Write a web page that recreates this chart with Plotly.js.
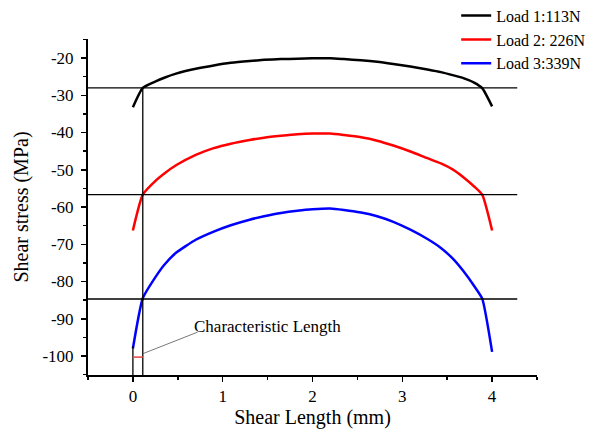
<!DOCTYPE html>
<html>
<head>
<meta charset="utf-8">
<script src="https://cdn.plot.ly/plotly-3.0.1.min.js"></script>
<style>html,body{margin:0;padding:0;background:#fff;}#chart{width:590px;height:440px;}</style>
</head>
<body>
<div id="chart"></div>
<script>
// Shear length positions (mm)
const shearLength = [0, 0.11, 0.26, 0.35, 0.48, 0.7, 0.9, 1.09, 1.3, 1.46, 1.65, 1.83, 2.0, 2.2, 2.35, 2.54, 2.72, 2.9, 3.09, 3.28, 3.43, 3.56, 3.68, 3.8, 3.89, 4.0];
// Shear stress (MPa) per load
const load1 = [-33.2, -28.0, -26.2, -25.3, -24.2, -22.9, -22.0, -21.3, -20.8, -20.5, -20.3, -20.2, -20.1, -20.1, -20.3, -20.6, -21.0, -21.6, -22.3, -23.1, -23.8, -24.6, -25.4, -26.6, -28.1, -33.0];
const load2 = [-66.3, -56.7, -52.8, -51.0, -48.8, -46.0, -44.2, -43.0, -42.0, -41.4, -40.9, -40.5, -40.3, -40.3, -40.7, -41.3, -42.2, -43.5, -45.1, -46.9, -48.3, -49.9, -52.0, -54.5, -56.7, -66.3];
const load3 = [-98.0, -84.5, -78.5, -75.5, -72.3, -68.8, -66.6, -64.9, -63.4, -62.5, -61.6, -61.0, -60.6, -60.4, -60.8, -61.5, -62.5, -64.0, -66.1, -68.6, -71.0, -73.8, -77.2, -81.2, -84.6, -98.9];
const seriesNames = ["Load 1:113N", "Load 2: 226N", "Load 3:339N"];
const seriesColors = ["#000000", "#ff0000", "#0000ff"];

// Guide values
const thresholdStress = [-28.0, -56.7, -84.7];
const characteristicLength = 0.11;
const charMarkStress = -100.3;
const charLineBottom = -97.3;
const annotationText = "Characteristic Length";
const annotationPos = {x: 0.66, y: -92.2};
const annotationLeader = {x0: 0.72, y0: -93.6, x1: 0.108, y1: -99.4};

// Ticks
const yTickVals = [-100, -90, -80, -70, -60, -50, -40, -30, -20];
const yTickText = ["-100", "-90", "-80", "-70", "-60", "-50", "-40", "-30", "-20"];
const xTickVals = [0, 1, 2, 3, 4];
const xTickText = ["0", "1", "2", "3", "4"];

const xRange = [-0.5, 4.5];
const yRange = [-105.1, -14.9];
const font = "'Liberation Serif', 'Times New Roman', serif";

const traces = [load1, load2, load3].map((ys, i) => ({
  x: shearLength, y: ys, type: 'scatter', mode: 'lines',
  name: seriesNames[i], line: {color: seriesColors[i], width: 2.5, shape: 'spline', smoothing: 0.5}
}));

const shapes = [];
thresholdStress.forEach(v => shapes.push({
  type: 'line', xref: 'x', yref: 'y', x0: xRange[0], x1: 4.28, y0: v, y1: v,
  line: {color: '#000', width: 1.3}
}));
shapes.push({type: 'line', xref: 'x', yref: 'y', x0: characteristicLength, x1: characteristicLength, y0: thresholdStress[0], y1: yRange[0], line: {color: '#000', width: 1.3}});
shapes.push({type: 'line', xref: 'x', yref: 'y', x0: 0, x1: 0, y0: charLineBottom, y1: yRange[0], line: {color: '#000', width: 1.3}});
shapes.push({type: 'line', xref: 'x', yref: 'y', x0: 0, x1: characteristicLength, y0: charMarkStress, y1: charMarkStress, line: {color: '#e8504a', width: 1.6}});
shapes.push({type: 'line', xref: 'x', yref: 'y', x0: annotationLeader.x0, y0: annotationLeader.y0, x1: annotationLeader.x1, y1: annotationLeader.y1, line: {color: '#555', width: 0.8}});

const layout = {
  width: 590, height: 440,
  paper_bgcolor: '#fff', plot_bgcolor: '#fff',
  font: {family: font, color: '#000', size: 17},
  margin: {l: 88, r: 53, t: 39, b: 65, autoexpand: false},
  showlegend: true,
  legend: {x: 0.82, y: 1.12, xanchor: 'left', yanchor: 'top', font: {family: font, size: 16, color: '#000'}, bgcolor: 'rgba(0,0,0,0)', borderwidth: 0, tracegroupgap: 0},
  xaxis: {
    range: xRange, tickmode: 'array', tickvals: xTickVals, ticktext: xTickText,
    showgrid: false, zeroline: false, showline: true, linecolor: '#000', linewidth: 2,
    ticks: 'outside', ticklen: 5, tickwidth: 1.5, tickcolor: '#000',
    minor: {dtick: 0.5, tick0: 0, ticks: 'outside', ticklen: 3, tickwidth: 1.5, tickcolor: '#000', showgrid: false},
    tickfont: {family: font, size: 17, color: '#000'},
    title: {text: 'Shear Length (mm)', font: {family: font, size: 20, color: '#000'}, standoff: 0}
  },
  yaxis: {
    range: yRange, tickmode: 'array', tickvals: yTickVals, ticktext: yTickText,
    showgrid: false, zeroline: false, showline: true, linecolor: '#000', linewidth: 2,
    ticks: 'outside', ticklen: 5, tickwidth: 1.5, tickcolor: '#000', ticklabelstandoff: 4,
    minor: {dtick: 5, tick0: 0, ticks: 'outside', ticklen: 3, tickwidth: 1.5, tickcolor: '#000', showgrid: false},
    tickfont: {family: font, size: 17, color: '#000'},
    title: {text: 'Shear stress (MPa)', font: {family: font, size: 20, color: '#000'}, standoff: 8}
  },
  shapes: shapes,
  annotations: [{
    x: annotationPos.x, y: annotationPos.y, xref: 'x', yref: 'y', text: annotationText,
    showarrow: false, xanchor: 'left', yanchor: 'middle', font: {family: font, size: 17, color: '#000'}
  }]
};

Plotly.newPlot('chart', traces, layout, {displayModeBar: false, staticPlot: true});
</script>
</body>
</html>
